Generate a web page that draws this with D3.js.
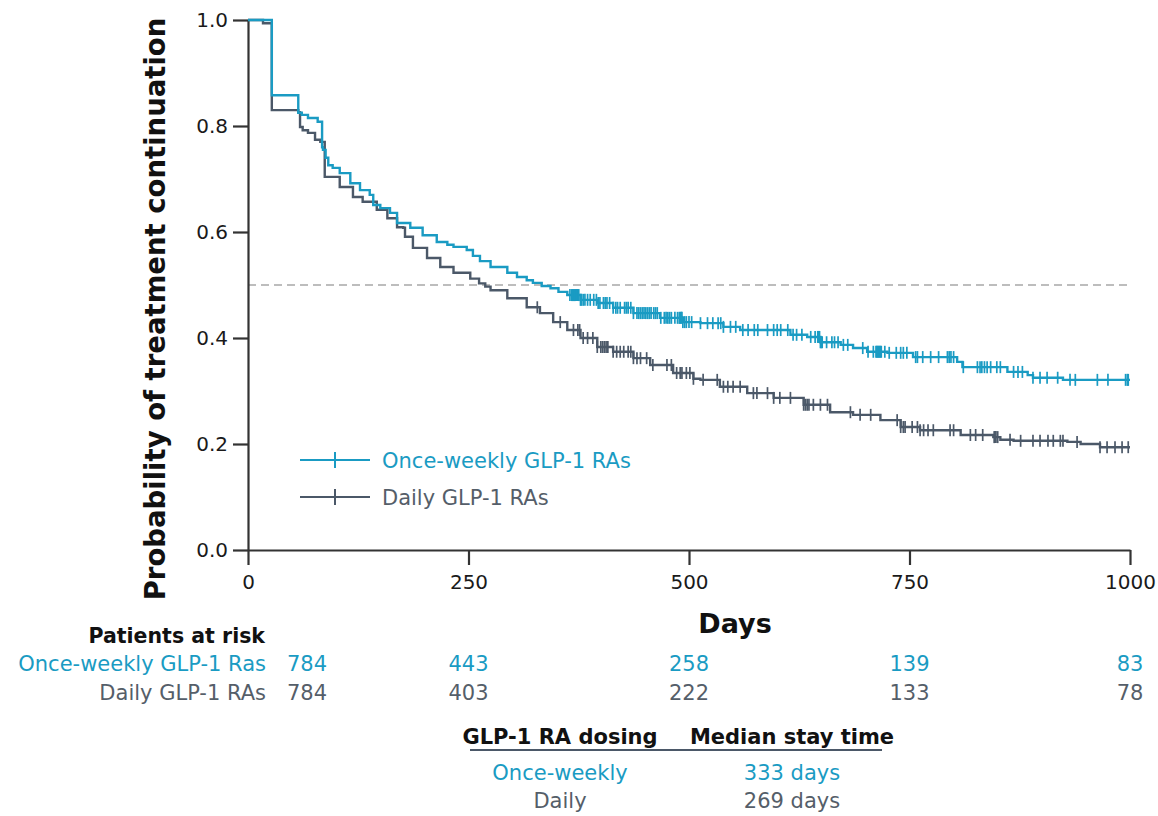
<!DOCTYPE html>
<html>
<head>
<meta charset="utf-8">
<script src="https://cdn.jsdelivr.net/npm/d3@7/dist/d3.min.js"></script>
<style>
  html, body { margin: 0; padding: 0; background: #ffffff; }
  svg { display: block; font-family: "DejaVu Sans", Verdana, sans-serif; }
</style>
</head>
<body>
<svg id="chart" width="1158" height="816"></svg>
<script>
// Kaplan–Meier estimates of treatment continuation (day, survival probability)
const weeklyDays = [0, 27, 57, 61, 68, 79, 84, 85, 88, 91, 96, 104, 116, 127, 138, 142, 150, 161, 169, 184, 198, 214, 226, 233, 248, 255, 263, 275, 294, 305, 316, 323, 333, 343, 352, 362, 377, 396, 414, 437, 467, 493, 513, 539, 558, 615, 634, 649, 672, 686, 702, 725, 754, 804, 810, 861, 884, 890, 924, 1000];
const weeklySurv = [1.0, 0.858, 0.825, 0.821, 0.815, 0.808, 0.760, 0.755, 0.740, 0.726, 0.721, 0.711, 0.692, 0.679, 0.670, 0.651, 0.645, 0.636, 0.617, 0.608, 0.594, 0.581, 0.576, 0.572, 0.566, 0.555, 0.545, 0.534, 0.523, 0.515, 0.509, 0.504, 0.498, 0.494, 0.487, 0.481, 0.472, 0.466, 0.457, 0.447, 0.438, 0.430, 0.428, 0.421, 0.415, 0.406, 0.402, 0.392, 0.387, 0.381, 0.374, 0.372, 0.364, 0.355, 0.345, 0.336, 0.330, 0.325, 0.321, 0.321];

const dailyDays = [0, 17, 27, 57, 59, 62, 68, 76, 82, 87, 104, 119, 130, 146, 158, 169, 176, 178, 187, 203, 218, 233, 252, 262, 269, 275, 294, 316, 331, 346, 362, 377, 396, 414, 437, 456, 482, 505, 513, 535, 566, 596, 630, 660, 686, 717, 740, 762, 808, 845, 853, 868, 929, 944, 966, 1000];
const dailySurv = [1.0, 0.994, 0.830, 0.826, 0.798, 0.792, 0.787, 0.774, 0.770, 0.704, 0.685, 0.666, 0.657, 0.642, 0.626, 0.609, 0.608, 0.591, 0.570, 0.551, 0.534, 0.523, 0.512, 0.503, 0.497, 0.490, 0.475, 0.458, 0.447, 0.430, 0.415, 0.400, 0.383, 0.374, 0.362, 0.349, 0.334, 0.323, 0.321, 0.308, 0.296, 0.287, 0.274, 0.260, 0.255, 0.245, 0.232, 0.226, 0.217, 0.213, 0.208, 0.206, 0.204, 0.200, 0.194, 0.194];

// Censoring times (days)
const weeklyCensor = [365, 367, 368, 369, 370, 371, 372, 373, 374, 375, 377, 378, 380, 382, 385, 388, 392, 395, 397, 399, 403, 405, 407, 410, 414, 417, 419, 422, 427, 429, 431, 434, 437, 441, 443, 445, 447, 449, 451, 453, 455, 457, 460, 462, 464, 468, 472, 474, 476, 478, 480, 484, 487, 489, 490, 491, 492, 493, 495, 497, 500, 503, 513, 521, 527, 533, 536, 539, 547, 553, 561, 567, 574, 578, 589, 596, 600, 604, 612, 618, 622, 628, 638, 643, 646, 647, 648, 649, 650, 651, 656, 662, 665, 669, 675, 680, 697, 703, 709, 712, 713, 714, 715, 716, 717, 718, 722, 727, 735, 740, 743, 747, 757, 759, 765, 774, 783, 793, 795, 797, 800, 811, 827, 830, 832, 835, 838, 842, 849, 853, 868, 873, 878, 890, 898, 906, 918, 932, 938, 963, 975, 995, 997, 998];
const dailyCensor = [328, 354, 369, 374, 376, 380, 385, 391, 396, 400, 402, 404, 406, 408, 414, 418, 422, 426, 431, 434, 437, 441, 445, 452, 459, 475, 480, 486, 490, 492, 497, 501, 505, 516, 532, 539, 544, 550, 558, 573, 577, 589, 596, 603, 615, 630, 632, 634, 636, 641, 649, 657, 683, 694, 706, 736, 740, 743, 745, 753, 759, 762, 766, 771, 777, 796, 800, 819, 825, 833, 846, 847, 848, 850, 864, 876, 890, 898, 907, 913, 921, 924, 940, 966, 974, 983, 991, 998];

// Axis ticks
const xTicks = [0, 250, 500, 750, 1000];
const yTicks = [0.0, 0.2, 0.4, 0.6, 0.8, 1.0];

// Number at risk
const riskGroups = ["Once-weekly GLP-1 Ras", "Daily GLP-1 RAs"];
const riskWeekly = [784, 443, 258, 139, 83];
const riskDaily = [784, 403, 222, 133, 78];

// Median summary
const medianGroups = ["Once-weekly", "Daily"];
const medianDays = [333, 269];

const seriesNames = ["Once-weekly GLP-1 RAs", "Daily GLP-1 RAs"];
const colors = ["#1a9bc3", "#4b5868"];
const textColors = ["#1a9bc3", "#555e69"];

const svg = d3.select("#chart");
const margin = { left: 248, top: 20, right: 1130, bottom: 550 };

const x = d3.scaleLinear().domain([0, 1000]).range([margin.left, margin.right]);
const y = d3.scaleLinear().domain([0, 1]).range([margin.bottom, margin.top]);

// 50% reference line
svg.append("line")
  .attr("x1", x(0)).attr("x2", x(1000))
  .attr("y1", y(0.5)).attr("y2", y(0.5))
  .attr("stroke", "#bdbdbd").attr("stroke-width", 2)
  .attr("stroke-dasharray", "8,5");

// Axes
const axisColor = "#333333";
const xAxis = svg.append("g")
  .attr("transform", `translate(0,${y(0)})`)
  .call(d3.axisBottom(x).tickValues(xTicks).tickFormat(d3.format("d")).tickSize(15).tickSizeOuter(0).tickPadding(5));
const yAxis = svg.append("g")
  .attr("transform", `translate(${x(0)},0)`)
  .call(d3.axisLeft(y).tickValues(yTicks).tickFormat(d3.format(".1f")).tickSize(15).tickSizeOuter(0).tickPadding(5));

[xAxis, yAxis].forEach(g => {
  g.selectAll("path.domain").attr("stroke", axisColor).attr("stroke-width", 2.2);
  g.selectAll(".tick line").attr("stroke", axisColor).attr("stroke-width", 2.2);
  g.selectAll(".tick text")
    .attr("fill", "#1a1a1a")
    .style("font-family", "'DejaVu Sans', Verdana, sans-serif")
    .style("font-size", "20px");
});
xAxis.selectAll(".tick text").attr("dy", "0.95em");

// Axis titles
svg.append("text")
  .attr("transform", `translate(165,${(y(0) + y(1)) / 2 + 24}) rotate(-90)`)
  .attr("text-anchor", "middle")
  .style("font-weight", "bold").style("font-size", "27.5px")
  .attr("fill", "#111")
  .text("Probability of treatment continuation");

svg.append("text")
  .attr("x", (x(0) + x(1000)) / 2 + 46).attr("y", 633)
  .attr("text-anchor", "middle")
  .style("font-weight", "bold").style("font-size", "27px")
  .attr("fill", "#111")
  .text("Days");

// Survival curves
const stepOf = (days, surv) => days.map((d, i) => ({ d, s: surv[i] }));
const series = [
  { pts: stepOf(weeklyDays, weeklySurv), censor: weeklyCensor, color: colors[0] },
  { pts: stepOf(dailyDays, dailySurv), censor: dailyCensor, color: colors[1] }
];

const line = d3.line().x(p => x(p.d)).y(p => y(p.s)).curve(d3.curveStepAfter);
const survAt = (pts, t) => {
  const i = d3.bisector(p => p.d).right(pts, t) - 1;
  return pts[Math.max(0, i)].s;
};

// draw the daily curve first so the weekly curve sits on top
[1, 0].forEach(k => {
  const s = series[k];
  const g = svg.append("g");
  g.append("path")
    .attr("d", line(s.pts))
    .attr("fill", "none")
    .attr("stroke", s.color)
    .attr("stroke-width", 2.4);
  g.selectAll("line.censor")
    .data(s.censor)
    .join("line")
    .attr("class", "censor")
    .attr("x1", t => x(t)).attr("x2", t => x(t))
    .attr("y1", t => y(survAt(s.pts, t)) - 6)
    .attr("y2", t => y(survAt(s.pts, t)) + 6)
    .attr("stroke", s.color)
    .attr("stroke-width", 1.7);
});

// Legend
const legend = svg.append("g").attr("transform", "translate(300,460)");
seriesNames.forEach((name, i) => {
  const gy = i * 37;
  legend.append("line").attr("x1", 0).attr("x2", 70).attr("y1", gy).attr("y2", gy)
    .attr("stroke", colors[i]).attr("stroke-width", 2.2);
  legend.append("line").attr("x1", 35).attr("x2", 35).attr("y1", gy - 8).attr("y2", gy + 8)
    .attr("stroke", colors[i]).attr("stroke-width", 2);
  legend.append("text").attr("x", 82).attr("y", gy + 8)
    .attr("fill", textColors[i])
    .style("font-size", "21px")
    .text(name);
});

// Number-at-risk table
svg.append("text")
  .attr("x", 265).attr("y", 643)
  .attr("text-anchor", "end")
  .style("font-weight", "bold").style("font-size", "20.5px")
  .attr("fill", "#111")
  .text("Patients at risk");

[riskWeekly, riskDaily].forEach((row, r) => {
  const ty = 671 + r * 29;
  svg.append("text")
    .attr("x", 266).attr("y", ty)
    .attr("text-anchor", "end")
    .attr("fill", textColors[r])
    .style("font-size", "21px")
    .text(riskGroups[r]);
  svg.selectAll(null)
    .data(row)
    .join("text")
    .attr("x", (v, i) => i === 0 ? x(xTicks[i]) + 59 : x(xTicks[i]))
    .attr("y", ty)
    .attr("text-anchor", "middle")
    .attr("fill", textColors[r])
    .style("font-size", "21px")
    .text(v => v);
});

// Median stay time table
const colA = 560, colB = 792;
svg.append("text").attr("x", colA).attr("y", 744).attr("text-anchor", "middle")
  .style("font-weight", "bold").style("font-size", "21px").attr("fill", "#111")
  .text("GLP-1 RA dosing");
svg.append("text").attr("x", colB).attr("y", 744).attr("text-anchor", "middle")
  .style("font-weight", "bold").style("font-size", "21px").attr("fill", "#111")
  .text("Median stay time");
svg.append("line").attr("x1", 470).attr("x2", 882).attr("y1", 750).attr("y2", 750)
  .attr("stroke", "#4b5868").attr("stroke-width", 2);
medianGroups.forEach((g, i) => {
  const ty = 780 + i * 28;
  svg.append("text").attr("x", colA).attr("y", ty).attr("text-anchor", "middle")
    .attr("fill", textColors[i]).style("font-size", "21px").text(g);
  svg.append("text").attr("x", colB).attr("y", ty).attr("text-anchor", "middle")
    .attr("fill", textColors[i]).style("font-size", "21px").text(`${medianDays[i]} days`);
});
</script>
</body>
</html>
